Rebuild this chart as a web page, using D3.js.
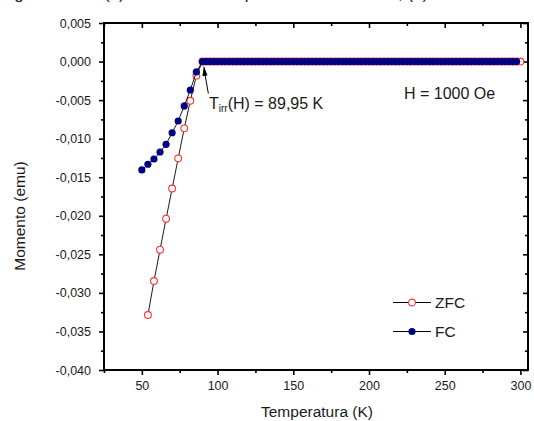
<!DOCTYPE html>
<html>
<head>
<meta charset="utf-8">
<script src="https://cdn.jsdelivr.net/npm/d3@7"></script>
<style>
    body { margin: 0; background: #fff; }
    svg { display: block; }
</style>
</head>
<body>
<svg id="chart"></svg>
<script>
// FC (field cooled) - ramp below the irreversibility temperature
const fcTemp = [50, 54, 58, 62, 66, 70, 74, 78, 82, 86];
const fcMoment = [-0.01406, -0.01332, -0.01264, -0.01173, -0.01073, -0.00923, -0.00771, -0.00576, -0.00369, -0.00135];

// ZFC (zero field cooled) - ramp
const zfcTemp = [54, 58, 62, 66, 70, 74, 78, 82, 86];
const zfcMoment = [-0.03287, -0.02846, -0.02440, -0.02038, -0.01646, -0.01255, -0.00866, -0.00508, -0.00183];

// above T_irr both curves sit on 0 emu
const plateauTemp = [90, 92.5, 95, 97.5, 100, 102.5, 105, 107.5, 110, 112.5, 115, 117.5,
    120, 122.5, 125, 127.5, 130, 132.5, 135, 137.5, 140, 142.5, 145, 147.5, 150, 152.5,
    155, 157.5, 160, 162.5, 165, 167.5, 170, 172.5, 175, 177.5, 180, 182.5, 185, 187.5,
    190, 192.5, 195, 197.5, 200, 202.5, 205, 207.5, 210, 212.5, 215, 217.5, 220, 222.5,
    225, 227.5, 230, 232.5, 235, 237.5, 240, 242.5, 245, 247.5, 250, 252.5, 255, 257.5,
    260, 262.5, 265, 267.5, 270, 272.5, 275, 277.5, 280, 282.5, 285, 287.5, 290, 292.5,
    295, 297.5];
const zfcLastTemp = [300];

const xMajor = [50, 100, 150, 200, 250, 300];
const xMinor = [25, 75, 125, 175, 225, 275];
const yMajor = [0.005, 0, -0.005, -0.010, -0.015, -0.020, -0.025, -0.030, -0.035, -0.040];
const yMinor = [0.0025, -0.0025, -0.0075, -0.0125, -0.0175, -0.0225, -0.0275, -0.0325, -0.0375];

const tIrr = 89.95;
const field = "H = 1000 Oe";

const width = 534;
const height = 421;
const font = "'Liberation Sans', Arial, Helvetica, sans-serif";

const svg = d3.select("#chart")
    .attr("width", width)
    .attr("height", height)
    .attr("font-family", font);

const x = d3.scaleLinear().domain([25, 305]).range([104, 528]);
const y = d3.scaleLinear().domain([-0.040, 0.005]).range([370, 23]);

const locale = d3.formatLocale({decimal: ",", thousands: ".", grouping: [3], currency: ["", ""], minus: "-"});
const yFmt = locale.format(".3f");

const fc = fcTemp.map((t, i) => ({t: t, m: fcMoment[i]}))
    .concat(plateauTemp.map(t => ({t: t, m: 0})));
const zfc = zfcTemp.map((t, i) => ({t: t, m: zfcMoment[i]}))
    .concat(plateauTemp.concat(zfcLastTemp).map(t => ({t: t, m: 0})));

// caption of the figure, cut off at the top of the crop (only descenders show)
const caption = svg.append("g")
    .attr("font-size", 17)
    .attr("fill", "#222");
[["Figura 4", 0], ["(a)", 104], ["Dependência", 223], [", (b)", 398]].forEach(c => {
    caption.append("text").attr("x", c[1]).attr("y", -0.8).text(c[0]);
});

// axes
function styleAxis(g, size) {
    g.select(".domain").remove();
    g.selectAll(".tick line").attr("stroke", "#000").attr("stroke-width", 1.6);
    g.selectAll(".tick text")
        .attr("font-family", font)
        .attr("font-size", size)
        .attr("fill", "#1a1a1a");
    g.attr("font-family", null).attr("font-size", null);
}

svg.append("g")
    .attr("transform", `translate(0,${y(-0.040)})`)
    .call(d3.axisBottom(x).tickValues(xMajor).tickSize(5).tickPadding(6.5).tickFormat(d3.format("d")))
    .call(g => styleAxis(g, 12.5));
svg.append("g")
    .attr("transform", `translate(0,${y(-0.040)})`)
    .call(d3.axisBottom(x).tickValues(xMinor).tickSize(3).tickFormat(""))
    .call(g => styleAxis(g, 12.5));

svg.append("g")
    .attr("transform", `translate(0,${y(0.005)})`)
    .call(d3.axisTop(x).tickValues(xMajor).tickSize(-5).tickFormat(""))
    .call(g => styleAxis(g, 12.5));
svg.append("g")
    .attr("transform", `translate(0,${y(0.005)})`)
    .call(d3.axisTop(x).tickValues(xMinor).tickSize(-3).tickFormat(""))
    .call(g => styleAxis(g, 12.5));

svg.append("g")
    .attr("transform", `translate(${x(25)},0)`)
    .call(d3.axisLeft(y).tickValues(yMajor).tickSize(5).tickPadding(8).tickFormat(yFmt))
    .call(g => styleAxis(g, 12.5));
svg.append("g")
    .attr("transform", `translate(${x(25)},0)`)
    .call(d3.axisLeft(y).tickValues(yMinor).tickSize(3).tickFormat(""))
    .call(g => styleAxis(g, 12.5));

svg.append("g")
    .attr("transform", `translate(${x(305)},0)`)
    .call(d3.axisRight(y).tickValues(yMajor).tickSize(-5).tickFormat(""))
    .call(g => styleAxis(g, 12.5));
svg.append("g")
    .attr("transform", `translate(${x(305)},0)`)
    .call(d3.axisRight(y).tickValues(yMinor).tickSize(-3).tickFormat(""))
    .call(g => styleAxis(g, 12.5));

// frame
svg.append("rect")
    .attr("x", x(25))
    .attr("y", y(0.005))
    .attr("width", x(305) - x(25))
    .attr("height", y(-0.040) - y(0.005))
    .attr("fill", "none")
    .attr("stroke", "#000")
    .attr("stroke-width", 2);

// axis titles
svg.append("text")
    .attr("x", (x(25) + x(305)) / 2 + 1)
    .attr("y", 417)
    .attr("text-anchor", "middle")
    .attr("font-size", 15.5)
    .attr("fill", "#1a1a1a")
    .text("Temperatura (K)");

svg.append("text")
    .attr("transform", "translate(25,216) rotate(-90)")
    .attr("text-anchor", "middle")
    .attr("font-size", 15.5)
    .attr("fill", "#1a1a1a")
    .text("Momento (emu)");

// series
const line = d3.line().x(d => x(d.t)).y(d => y(d.m));

svg.append("path")
    .datum(zfc)
    .attr("d", line)
    .attr("fill", "none")
    .attr("stroke", "#000")
    .attr("stroke-width", 0.9);

svg.append("g")
    .selectAll("circle")
    .data(zfc)
    .enter()
    .append("circle")
    .attr("cx", d => x(d.t))
    .attr("cy", d => y(d.m))
    .attr("r", 3.4)
    .attr("fill", "#fff")
    .attr("stroke", "#ff3030")
    .attr("stroke-width", 1.1);

svg.append("path")
    .datum(fc)
    .attr("d", line)
    .attr("fill", "none")
    .attr("stroke", "#000")
    .attr("stroke-width", 0.9);

svg.append("g")
    .selectAll("circle")
    .data(fc)
    .enter()
    .append("circle")
    .attr("cx", d => x(d.t))
    .attr("cy", d => y(d.m))
    .attr("r", 3.6)
    .attr("fill", "#000080");

// T_irr annotation
const tipX = x(tIrr) + 1.5;
const tipY = y(0) + 4;
svg.append("line")
    .attr("x1", tipX + 4.5)
    .attr("y1", tipY + 28)
    .attr("x2", tipX + 1)
    .attr("y2", tipY + 8)
    .attr("stroke", "#000")
    .attr("stroke-width", 1);
svg.append("path")
    .attr("d", `M${tipX},${tipY} L${tipX + 3.6},${tipY + 10} L${tipX - 1.4},${tipY + 10.8} Z`)
    .attr("fill", "#000");

const ann = svg.append("text")
    .attr("x", 209)
    .attr("y", 108.5)
    .attr("font-size", 16)
    .attr("fill", "#1a1a1a");
ann.append("tspan").text("T");
ann.append("tspan").attr("font-size", 10).attr("dy", 3.5).text("irr");
ann.append("tspan").attr("dy", -3.5).text("(H) = " + locale.format(".2f")(tIrr) + " K");

svg.append("text")
    .attr("x", 404)
    .attr("y", 98.5)
    .attr("font-size", 16)
    .attr("fill", "#1a1a1a")
    .text(field);

// legend
const legend = svg.append("g");
[["ZFC", 302.5], ["FC", 331.5]].forEach((item, i) => {
    const row = legend.append("g").attr("transform", `translate(0,${item[1]})`);
    row.append("line")
        .attr("x1", 393).attr("x2", 431)
        .attr("stroke", "#000").attr("stroke-width", 1);
    if (i === 0) {
        row.append("circle").attr("cx", 412).attr("r", 3.4)
            .attr("fill", "#fff").attr("stroke", "#ff3030").attr("stroke-width", 1.1);
    } else {
        row.append("circle").attr("cx", 412).attr("r", 3.6).attr("fill", "#000080");
    }
    row.append("text")
        .attr("x", 435)
        .attr("y", 5.5)
        .attr("font-size", 15.5)
        .attr("fill", "#1a1a1a")
        .text(item[0]);
});
</script>
</body>
</html>
